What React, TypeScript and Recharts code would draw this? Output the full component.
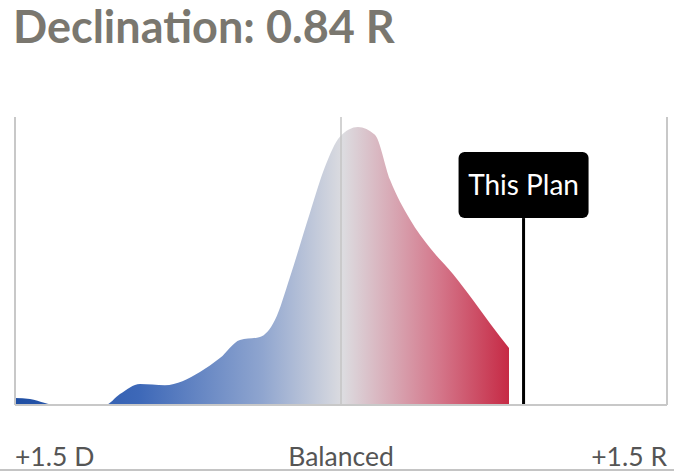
import { AreaChart, Area, XAxis, YAxis, ReferenceLine } from 'recharts';

// distribution of plan declination (x) vs relative density (0-100)
const declination = [-1.5, -1.431, -1.362, -1.316, -1.2, -1.086, -1.017, -0.925, -0.81, -0.649, -0.557, -0.465, -0.373, -0.304, -0.235, -0.143, -0.074, -0.005, 0.078, 0.156, 0.226, 0.317, 0.41, 0.515, 0.607, 0.686, 0.773];
const density = [2.4, 2.1, 0.7, 0, 0, 0, 3.8, 7.3, 6.9, 11.5, 16.3, 22.6, 23.6, 29.5, 44.4, 66.7, 82.6, 93.1, 96.5, 93.8, 78.1, 64.5, 54.5, 45.5, 36.5, 28.3, 19.8];

const tickValues = [-1.5, 0, 1.5];
const tickLabels = ['+1.5 D', 'Balanced', '+1.5 R'];

const THIS_PLAN = 0.84;
const MARKER_TOP = 64.9; // where the line meets the label box

const data = declination.map((x, i) => ({ x, density: density[i] }));

const FONT = 'Lato, "Open Sans", sans-serif';

function Tick(props: any) {
    const { x, y, payload, index } = props;
    const anchor = index === 0 ? 'start' : index === tickLabels.length - 1 ? 'end' : 'middle';
    return (
        <text x={x} y={y + 53} textAnchor={anchor} fill="#555" fontSize={26.5} fontFamily={FONT}>
            {tickLabels[tickValues.indexOf(payload.value)]}
        </text>
    );
}

function PlanLabel(props: any) {
    const { viewBox } = props;
    const cx = viewBox.x;
    const bottom = viewBox.y;
    const w = 130;
    const h = 66;
    return (
        <g>
            <rect x={cx - w / 2} y={bottom - h} width={w} height={h} rx={6} fill="#000" />
            <text x={cx} y={bottom - h / 2 + 10} textAnchor="middle" fill="#fff" fontSize={28} fontFamily={FONT}>
                This Plan
            </text>
        </g>
    );
}

export default function App() {
    return (
        <div style={{ position: 'absolute', left: 0, top: 0, width: 674, height: 471, background: '#fff' }}>
            <div style={{ position: 'absolute', left: 13, top: 4, fontFamily: FONT, fontWeight: 700, fontSize: 45, lineHeight: '45px', color: '#7a776f', whiteSpace: 'nowrap' }}>
                Declination: 0.84 R
            </div>
            <div style={{ position: 'absolute', left: 0, top: 469, width: 674, height: 2, background: '#c4c4c4' }} />
            <AreaChart width={674} height={471} data={data} margin={{ top: 117, right: 7, bottom: 0, left: 15 }}>
                <defs>
                    <linearGradient id="declGrad" x1="0" y1="0" x2="1" y2="0">
                        <stop offset="0" stopColor="#1f4ea3" />
                        <stop offset="0.25" stopColor="#3d68b8" />
                        <stop offset="0.5" stopColor="#8fa5cf" />
                        <stop offset="0.664" stopColor="#dcdce0" />
                        <stop offset="0.86" stopColor="#d4768a" />
                        <stop offset="1" stopColor="#c62a45" />
                    </linearGradient>
                </defs>
                <XAxis
                    dataKey="x"
                    type="number"
                    domain={[-1.5, 1.5]}
                    ticks={tickValues}
                    tick={<Tick />}
                    tickLine={false}
                    axisLine={{ stroke: '#c8c8c8', strokeWidth: 2 }}
                    height={66}
                    interval={0}
                />
                <YAxis hide domain={[0, 100]} />
                <Area
                    type="monotone"
                    dataKey="density"
                    stroke="none"
                    fill="url(#declGrad)"
                    fillOpacity={1}
                    isAnimationActive={false}
                />
                <ReferenceLine x={-1.5} stroke="#c8c8c8" strokeWidth={2} />
                <ReferenceLine x={0} stroke="#c4c4c4" strokeWidth={1.5} />
                <ReferenceLine x={1.5} stroke="#c8c8c8" strokeWidth={2} />
                <ReferenceLine
                    segment={[{ x: THIS_PLAN, y: 0 }, { x: THIS_PLAN, y: MARKER_TOP }]}
                    stroke="#000"
                    strokeWidth={3}
                    label={<PlanLabel />}
                />
            </AreaChart>
        </div>
    );
}
